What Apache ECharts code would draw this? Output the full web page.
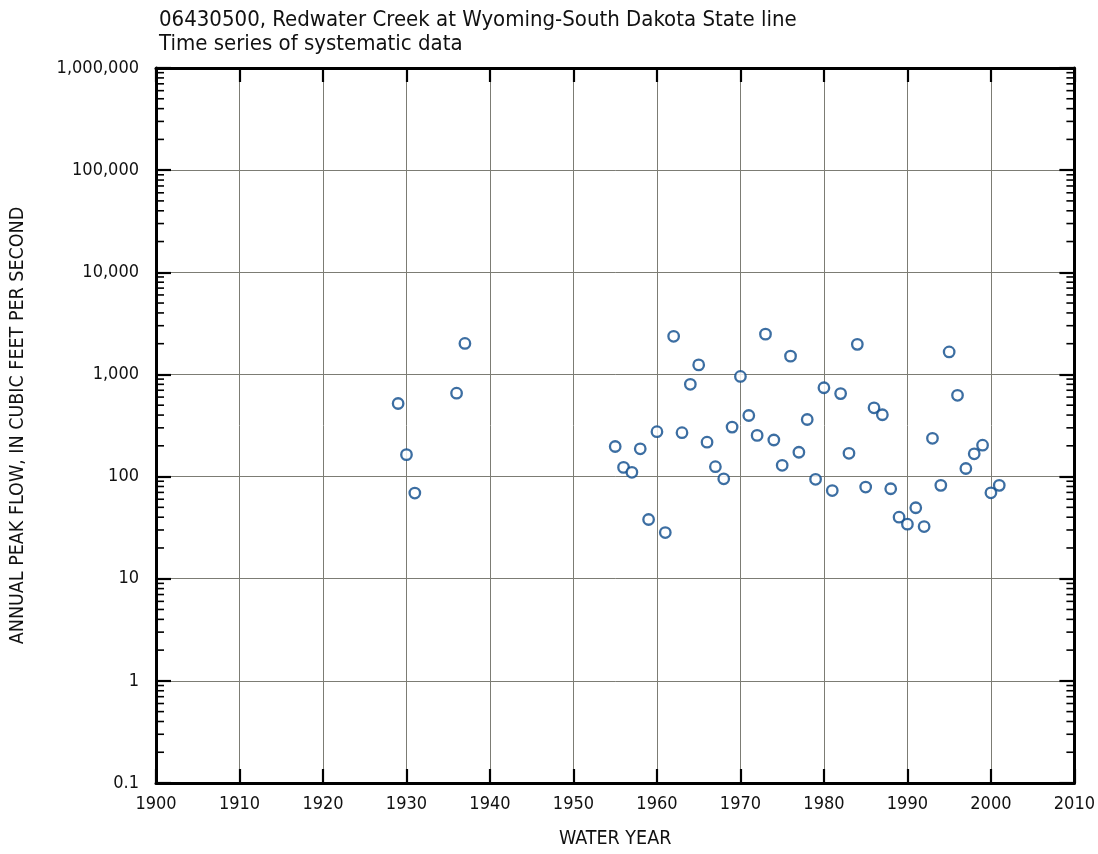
<!DOCTYPE html>
<html>
<head>
<meta charset="utf-8">
<script src="https://cdn.jsdelivr.net/npm/echarts@6/dist/echarts.min.js"></script>
<style>
html,body{margin:0;padding:0;background:#fff;}
#chart{width:1098px;height:854px;}
</style>
</head>
<body>
<div id="chart"></div>
<script>
const titleLines = ['06430500, Redwater Creek at Wyoming-South Dakota State line', 'Time series of systematic data'];
const xAxisName = 'WATER YEAR';
const yAxisName = 'ANNUAL PEAK FLOW, IN CUBIC FEET PER SECOND';
const years = [1929, 1930, 1931, 1936, 1937,
  1955, 1956, 1957, 1958, 1959, 1960, 1961, 1962, 1963, 1964, 1965, 1966, 1967, 1968, 1969,
  1970, 1971, 1972, 1973, 1974, 1975, 1976, 1977, 1978, 1979, 1980, 1981, 1982, 1983, 1984,
  1985, 1986, 1987, 1988, 1989, 1990, 1991, 1992, 1993, 1994, 1995, 1996, 1997, 1998, 1999,
  2000, 2001];
const peakFlows = [519, 164, 69, 655, 2010,
  197, 123, 110, 187, 38, 275, 28.3, 2360, 269, 800, 1240, 217, 125, 95, 305,
  956, 396, 253, 2480, 228, 129, 1510, 173, 362, 94, 741, 73, 649, 169, 1970,
  79, 471, 403, 76, 40, 34.2, 49.5, 32.4, 237, 82, 1660, 625, 120, 167, 203,
  69.3, 82];
const yearMin = 1900, yearMax = 2010, yearStep = 10;
const flowMin = 0.1, flowMax = 1000000;
const yLabels = {0.1:'0.1', 1:'1', 10:'10', 100:'100', 1000:'1,000', 10000:'10,000', 100000:'100,000', 1000000:'1,000,000'};

const FONT = '"Liberation Sans Narrow", "DejaVu Sans Condensed", "Liberation Sans", sans-serif';

const pts = years.map((y, i) => [y, peakFlows[i]]);

// minor log ticks (2..9 in each decade)
const minorVals = [];
for (let d = flowMin; d < flowMax; d *= 10) {
  for (let m = 2; m <= 9; m++) minorVals.push([yearMin, +(d * m).toPrecision(6)]);
}

const chart = echarts.init(document.getElementById('chart'), null, {renderer: 'canvas'});
const gridLine = {show: true, lineStyle: {color: '#7c7c74', width: 1}};
const axisLine = {show: true, lineStyle: {color: '#000', width: 3}};
const option = {
  animation: false,
  backgroundColor: '#fff',
  title: {
    text: titleLines.join('\n'),
    left: 154, top: 3,
    textStyle: {fontFamily: FONT, fontSize: 22, fontWeight: 'normal', color: '#111', lineHeight: 24}
  },
  grid: {left: 155, right: 22, top: 68, bottom: 66, containLabel: false},
  xAxis: [{
    type: 'value', min: yearMin, max: yearMax, interval: yearStep,
    name: xAxisName, nameLocation: 'middle', nameGap: 46,
    nameTextStyle: {fontFamily: FONT, fontSize: 19.5, color: '#111'},
    axisLine: axisLine,
    axisTick: {show: true, inside: true, length: 14, lineStyle: {color: '#000', width: 2.2}},
    axisLabel: {fontFamily: FONT, fontSize: 18, color: '#111', margin: 12, formatter: v => String(v)},
    splitLine: gridLine
  }, {
    type: 'value', position: 'top', min: yearMin, max: yearMax, interval: yearStep,
    axisLine: axisLine,
    axisTick: {show: true, inside: true, length: 14, lineStyle: {color: '#000', width: 2.2}},
    axisLabel: {show: false},
    splitLine: {show: false}
  }],
  yAxis: [{
    type: 'log', logBase: 10, min: flowMin, max: flowMax,
    name: yAxisName, nameLocation: 'middle', nameGap: 128, nameRotate: 90,
    nameTextStyle: {fontFamily: FONT, fontSize: 19.5, color: '#111'},
    axisLine: axisLine,
    axisTick: {show: true, inside: true, length: 15, lineStyle: {color: '#000', width: 2.2}},
    axisLabel: {fontFamily: FONT, fontSize: 18, color: '#111', margin: 17,
      formatter: v => yLabels[+v.toPrecision(6)] || ''},
    splitLine: gridLine,
    minorTick: {show: false}
  }, {
    type: 'log', logBase: 10, min: flowMin, max: flowMax, position: 'right',
    axisLine: axisLine,
    axisTick: {show: true, inside: true, length: 15, lineStyle: {color: '#000', width: 2.2}},
    axisLabel: {show: false},
    splitLine: {show: false}
  }],
  series: [{
    type: 'custom',
    silent: true,
    clip: false,
    xAxisIndex: 0, yAxisIndex: 0,
    data: minorVals,
    z: 5,
    renderItem: function (params, api) {
      const v = api.value(1);
      const pl = api.coord([yearMin, v]);
      const pr = api.coord([yearMax, v]);
      return {
        type: 'group',
        children: [
          {type: 'line', shape: {x1: pl[0], y1: pl[1], x2: pl[0] + 8, y2: pl[1]}, style: {stroke: '#000', lineWidth: 1.6}},
          {type: 'line', shape: {x1: pr[0], y1: pr[1], x2: pr[0] - 8, y2: pr[1]}, style: {stroke: '#000', lineWidth: 1.6}}
        ]
      };
    }
  }, {
    type: 'scatter',
    xAxisIndex: 0, yAxisIndex: 0,
    data: pts,
    symbol: 'circle',
    symbolSize: 10.5,
    itemStyle: {color: '#fff', borderColor: '#0b4a8b', borderWidth: 2.3},
    z: 10
  }]
};
chart.setOption(option);
</script>
</body>
</html>
